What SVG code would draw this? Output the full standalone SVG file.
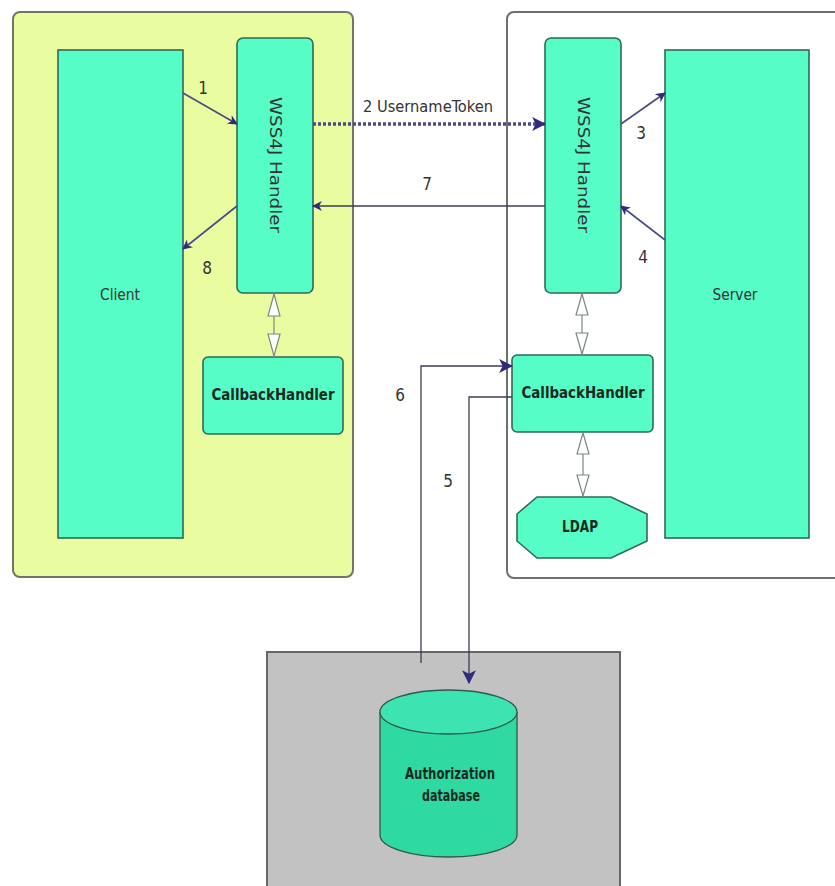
<svg xmlns="http://www.w3.org/2000/svg" width="835" height="886" viewBox="0 0 835 886">
<style>
.box{fill:#57fdc6;stroke:#2f6a55;stroke-width:1.6}
.lbl{font-family:"DejaVu Sans Condensed","Liberation Sans",sans-serif;font-size:15px;fill:#333}
.bold{font-family:"DejaVu Sans Condensed","Liberation Sans",sans-serif;font-size:15px;font-weight:bold;fill:#1a2a22}
.num{font-family:"DejaVu Sans Condensed","Liberation Sans",sans-serif;font-size:17px;fill:#333}
.arr{stroke:#4b4a86;stroke-width:1.6;fill:none}
.line{stroke:#3d3d55;stroke-width:1.3;fill:none}
.hollow{stroke:#7a8a80;stroke-width:1.2;fill:#ffffff}
</style>
<defs>
<marker id="ah" viewBox="0 0 10 10" refX="9" refY="5" markerWidth="10" markerHeight="10" markerUnits="userSpaceOnUse" orient="auto">
<path d="M0,0 L10,5 L0,10 L3,5 Z" fill="#2e2b7e"/>
</marker>
<marker id="ahb" viewBox="0 0 12 12" refX="11" refY="6" markerWidth="14" markerHeight="14" markerUnits="userSpaceOnUse" orient="auto">
<path d="M0,0 L12,6 L0,12 L3,6 Z" fill="#2e2b7e"/>
</marker>
</defs>
<rect width="835" height="886" fill="#ffffff"/>

<g id="client-container">
<rect x="13" y="12" width="340" height="565" rx="7" fill="#eafca0" stroke="#6f7567" stroke-width="2"/>
</g>
<g id="server-container">
<rect x="507" y="12" width="340" height="566" rx="7" fill="#ffffff" stroke="#6f7067" stroke-width="2"/>
</g>
<g id="db-container">
<rect x="267" y="652" width="353" height="250" fill="#c2c2c2" stroke="#666" stroke-width="2"/>
</g>

<g id="client">
<rect class="box" x="58" y="50" width="125" height="488"/>
<text class="lbl" x="120" y="300" text-anchor="middle" textLength="40" lengthAdjust="spacingAndGlyphs" fill="#3a5a50">Client</text>
</g>
<g id="client-handler">
<rect class="box" x="237" y="38" width="76" height="255" rx="6"/>
<text class="lbl" transform="translate(270,165) rotate(90)" text-anchor="middle" textLength="136" lengthAdjust="spacingAndGlyphs">WSS4J Handler</text>
</g>
<g id="client-callback">
<rect class="box" x="203" y="357" width="140" height="77" rx="5"/>
<text class="bold" x="273" y="400" text-anchor="middle" textLength="123" lengthAdjust="spacingAndGlyphs">CallbackHandler</text>
</g>
<g id="server">
<rect class="box" x="665" y="50" width="144" height="488"/>
<text class="lbl" x="735" y="300" text-anchor="middle" textLength="45" lengthAdjust="spacingAndGlyphs">Server</text>
</g>
<g id="server-handler">
<rect class="box" x="545" y="38" width="76" height="255" rx="6"/>
<text class="lbl" transform="translate(578,165) rotate(90)" text-anchor="middle" textLength="136" lengthAdjust="spacingAndGlyphs">WSS4J Handler</text>
</g>
<g id="server-callback">
<rect class="box" x="512" y="355" width="141" height="77" rx="5"/>
<text class="bold" x="583" y="398" text-anchor="middle" textLength="123" lengthAdjust="spacingAndGlyphs">CallbackHandler</text>
</g>
<g id="ldap">
<polygon class="box" points="537,497 611,497 647,514 647,541 611,558 537,558 517,541 517,514"/>
<text class="bold" x="580" y="532" text-anchor="middle" font-size="13" textLength="36" lengthAdjust="spacingAndGlyphs">LDAP</text>
</g>
<g id="auth-db">
<path d="M380,712 L380,835 A68.5,22 0 0 0 517,835 L517,712" fill="#2ed9a2" stroke="#2f5a4a" stroke-width="1.3"/>
<ellipse cx="448.5" cy="712" rx="68.5" ry="22" fill="#3ee3b2" stroke="#2f5a4a" stroke-width="1.3"/>
<text class="bold" x="450" y="779" text-anchor="middle" font-size="12" textLength="90" lengthAdjust="spacingAndGlyphs">Authorization</text>
<text class="bold" x="451" y="801" text-anchor="middle" font-size="12" textLength="58" lengthAdjust="spacingAndGlyphs">database</text>
</g>

<g id="connectors">
<line class="arr" x1="183" y1="93" x2="237" y2="124" marker-end="url(#ah)"/>
<line x1="313" y1="124" x2="545" y2="124" stroke="#4b4a86" stroke-width="3.5" stroke-dasharray="3,2" marker-end="url(#ahb)"/>
<line class="arr" x1="621" y1="124" x2="665" y2="93" marker-end="url(#ah)"/>
<line class="arr" x1="665" y1="240" x2="621" y2="206" marker-end="url(#ah)"/>
<line class="line" x1="545" y1="206" x2="313" y2="206" marker-end="url(#ah)"/>
<line class="arr" x1="237" y1="206" x2="183" y2="249" marker-end="url(#ah)"/>
<polyline class="line" points="421,663 421,366 512,366" marker-end="url(#ahb)"/>
<polyline class="line" points="512,397 469,397 469,683" marker-end="url(#ahb)"/>
<g>
<line x1="274" y1="293" x2="274" y2="357" stroke="#7a8a80" stroke-width="1.2"/>
<polygon class="hollow" points="274,294 268,316 280,316"/>
<polygon class="hollow" points="274,356 268,334 280,334"/>
</g>
<g>
<line x1="582" y1="293" x2="582" y2="355" stroke="#7a8a80" stroke-width="1.2"/>
<polygon class="hollow" points="582,294 576,315 588,315"/>
<polygon class="hollow" points="582,354 576,333 588,333"/>
</g>
<g>
<line x1="583" y1="432" x2="583" y2="497" stroke="#7a8a80" stroke-width="1.2"/>
<polygon class="hollow" points="583,433 577,454 589,454"/>
<polygon class="hollow" points="583,496 577,475 589,475"/>
</g>
<text class="num" x="203" y="94" text-anchor="middle">1</text>
<text class="lbl" x="428" y="112" text-anchor="middle" textLength="130" lengthAdjust="spacingAndGlyphs">2 UsernameToken</text>
<text class="num" x="641" y="139" text-anchor="middle">3</text>
<text class="num" x="643" y="263" text-anchor="middle">4</text>
<text class="num" x="448" y="487" text-anchor="middle">5</text>
<text class="num" x="400" y="401" text-anchor="middle">6</text>
<text class="num" x="427" y="190" text-anchor="middle">7</text>
<text class="num" x="207" y="274" text-anchor="middle">8</text>
</g>
</svg>
